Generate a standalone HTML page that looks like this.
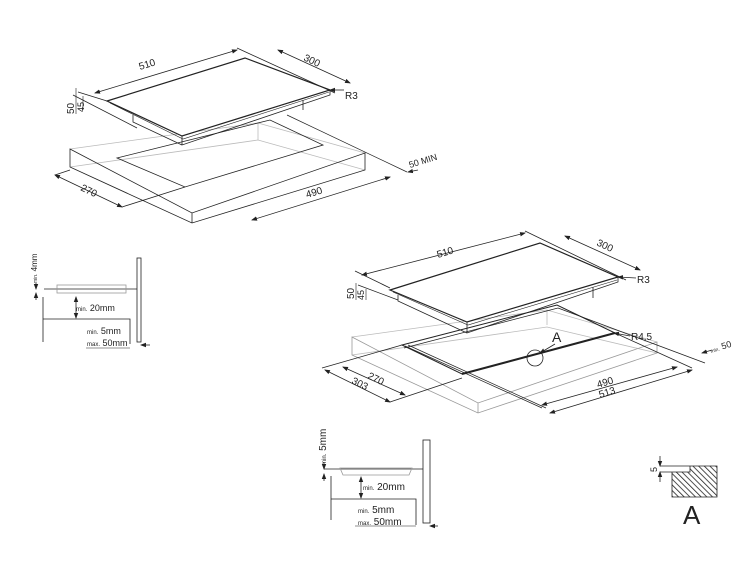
<!DOCTYPE html>
<html><head><meta charset="utf-8"><style>
body{margin:0;background:#fff}
svg{display:block}
text{font-family:"Liberation Sans",sans-serif;fill:#222}
</style></head><body>
<svg width="754" height="566" viewBox="0 0 754 566" xmlns="http://www.w3.org/2000/svg">
<defs>
<marker id="a" markerWidth="6" markerHeight="6" refX="5" refY="3" orient="auto-start-reverse" markerUnits="userSpaceOnUse"><path d="M0,0.8 L6,3 L0,5.2z" fill="#222"/></marker>
<pattern id="h" width="4" height="4" patternUnits="userSpaceOnUse" patternTransform="rotate(-45)"><line x1="0" y1="0" x2="0" y2="4" stroke="#222" stroke-width="1.6"/></pattern>
</defs>
<g fill="none" stroke="#222" stroke-width="0.8">
<!-- TOP LEFT -->
<g stroke="#bbb"><path d="M70,149 L258,123 L365,153"/><path d="M258,123 L258,140"/><path d="M70,167 L258,140 L365,170"/></g>
<path d="M70,149 L192,213 L365,153 L365,170 L192,223 L70,167Z M192,213 L192,223"/>
<path d="M117,158 L270,120 L323,145 L185,187Z"/>
<path d="M107,101 L245,58 L330,90 L182,136Z" fill="#fff" stroke-width="1.2"/>
<path d="M110,103 L183,139 L329,92" stroke-width="0.6"/>
<path d="M182,136 L182,145 L330,95 L330,90 M133,115 L133,122 L182,145 M303,100 L303,110"/>
<path d="M95,93 L237,50" marker-start="url(#a)" marker-end="url(#a)"/>
<path d="M237,48 L335,93 M78,92 L107,101 M73,95 L137,128"/>
<path d="M278,50 L350,83" marker-start="url(#a)" marker-end="url(#a)"/>
<path d="M344,90 L330,90" marker-end="url(#a)"/>
<path d="M76,88 L76,114 M83,96 L83,110" stroke-width="0.6"/>
<path d="M55,175 L122,207" marker-start="url(#a)" marker-end="url(#a)"/>
<path d="M122,207 L185,187 M55,175 L70,170"/>
<path d="M252,220 L390,177" marker-start="url(#a)" marker-end="url(#a)"/>
<path d="M287,115 L407,172" stroke-width="0.7"/>
<path d="M418,170 L408,172" marker-end="url(#a)"/>
<!-- RIGHT -->
<g stroke="#bbb"><path d="M352,337 L547,310 L657,342"/><path d="M547,310 L547,325"/><path d="M352,355 L547,327 L657,353"/></g>
<path d="M352,337 L478,403 L657,342 L657,353 L478,413 L352,355Z M478,403 L478,413" stroke="#999"/>
<path d="M402,345 L557,305 L615,333 L462,374Z" stroke-width="1"/>
<path d="M404,348 L558,308 M405,346 L542,408 M408,345 L546,408" stroke-width="0.7"/>
<path d="M462,374 L615,333" stroke-width="2"/>
<path d="M390,290 L540,243 L618,277 L467,322Z" fill="#fff" stroke-width="1.2"/>
<path d="M393,292 L468,325 L617,280" stroke-width="0.6"/>
<path d="M467,322 L467,333 L618,282 L618,277 M398,295 L398,301 L467,333 M593,287 L593,298"/>
<path d="M362,275 L525,233" marker-start="url(#a)" marker-end="url(#a)"/>
<path d="M525,231 L626,280 M355,271 L390,288 M358,285 L398,300"/>
<path d="M565,236 L640,270" marker-start="url(#a)" marker-end="url(#a)"/>
<path d="M636,278 L618,277" marker-end="url(#a)"/>
<path d="M630,336 L614,333" marker-end="url(#a)"/>
<path d="M356,283 L356,300 M366,289 L366,300" stroke-width="0.6"/>
<path d="M325,370 L390,402" marker-start="url(#a)" marker-end="url(#a)"/>
<path d="M343,367 L405,395" marker-start="url(#a)" marker-end="url(#a)"/>
<path d="M322,368 L402,345 M390,402 L462,378"/>
<path d="M542,405 L677,367" marker-start="url(#a)" marker-end="url(#a)"/>
<path d="M550,413 L692,370" marker-start="url(#a)" marker-end="url(#a)"/>
<path d="M615,333 L692,368 M558,308 L705,363"/>
<path d="M712,350 L702,353" marker-end="url(#a)"/>
<circle cx="535" cy="358" r="8"/>
<path d="M555,344 L540,353" marker-end="url(#a)"/>
<!-- BOTTOM LEFT SECTION -->
<rect x="137" y="258" width="4" height="84"/>
<path d="M44,289 L137,289 M43,297 L43,342 M43,319 L130,319 L130,344"/>
<rect x="57" y="285" width="69" height="8" stroke="#999"/>
<path d="M76,297 L76,318" marker-start="url(#a)" marker-end="url(#a)"/>
<path d="M36,283 L36,289" marker-end="url(#a)"/><path d="M36,300 L36,293" marker-end="url(#a)"/>
<path d="M86,348 L130,348" stroke-width="0.6"/>
<path d="M150,345 L141,345" marker-end="url(#a)"/>
<!-- BOTTOM MIDDLE SECTION -->
<rect x="423" y="440" width="7" height="83"/>
<path d="M324,469 L423,469 M331,476 L331,520 M331,499 L416,499 L416,525"/>
<path d="M340,468 L412,468 L409,475 L343,475Z" stroke="#999"/>
<path d="M361,477 L361,498" marker-start="url(#a)" marker-end="url(#a)"/>
<path d="M324,462 L324,469" marker-end="url(#a)"/><path d="M324,481 L324,474" marker-end="url(#a)"/>
<path d="M355,526 L416,526" stroke-width="0.6"/>
<path d="M438,526 L430,526" marker-end="url(#a)"/>
<!-- A detail -->
<rect x="672" y="466" width="45" height="31" fill="url(#h)" stroke="none"/>
<rect x="660" y="466" width="30" height="6" fill="#fff" stroke="none"/>
<path d="M660,466 L717,466 L717,497 L672,497 L672,472 L660,472 M690,466 L690,472 L672,472"/>
<path d="M660,456 L660,466" marker-end="url(#a)"/><path d="M660,482 L660,472" marker-end="url(#a)"/>
</g>
<g font-size="10">
<text transform="translate(140,70) rotate(-17)">510</text>
<text transform="translate(303,60) rotate(25)">300</text>
<text x="345" y="99">R3</text>
<text transform="translate(74,114) rotate(-90)">50</text>
<text transform="translate(84,112) rotate(-90)" font-size="9">45</text>
<text transform="translate(80,190) rotate(26)">270</text>
<text transform="translate(307,198) rotate(-17)">490</text>
<text transform="translate(410,168) rotate(-17)" font-size="9">50 MIN</text>
<text transform="translate(438,258) rotate(-17)">510</text>
<text transform="translate(596,245) rotate(25)">300</text>
<text x="637" y="283">R3</text>
<text transform="translate(354,299) rotate(-90)">50</text>
<text transform="translate(364,300) rotate(-90)" font-size="9">45</text>
<text x="631" y="340">R4,5</text>
<text transform="translate(711,353) rotate(-17)" font-size="9"><tspan font-size="5">min.</tspan> 50</text>
<text transform="translate(367,378) rotate(26)">270</text>
<text transform="translate(351,383) rotate(26)">303</text>
<text transform="translate(598,388) rotate(-17)">490</text>
<text transform="translate(600,398) rotate(-17)">513</text>
<text x="552" y="342" font-size="14">A</text>
<text x="76" y="311" font-size="9"><tspan font-size="6">min.</tspan> 20mm</text>
<text x="87" y="334" font-size="9"><tspan font-size="6">min.</tspan> 5mm</text>
<text x="87" y="346" font-size="9"><tspan font-size="6">max.</tspan> 50mm</text>
<text transform="translate(37,283) rotate(-90)" font-size="8"><tspan font-size="5">min.</tspan> 4mm</text>
<text x="363" y="490" font-size="10"><tspan font-size="6">min.</tspan> 20mm</text>
<text x="358" y="513" font-size="10"><tspan font-size="6">min.</tspan> 5mm</text>
<text x="358" y="525" font-size="10"><tspan font-size="6">max.</tspan> 50mm</text>
<text transform="translate(326,465) rotate(-90)" font-size="10"><tspan font-size="6">min.</tspan> 5mm</text>
<text transform="translate(657,472) rotate(-90)" font-size="9">5</text>
<text x="683" y="524" font-size="26">A</text>
</g>
</svg>
</body></html>
